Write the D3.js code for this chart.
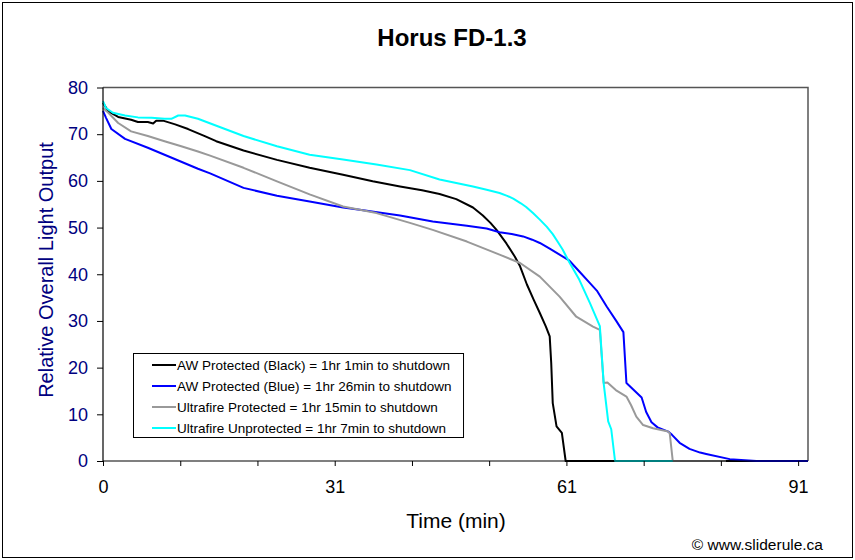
<!DOCTYPE html>
<html>
<head>
<meta charset="utf-8">
<script src="https://cdn.jsdelivr.net/npm/d3@7"></script>
<style>
  html, body { margin: 0; padding: 0; background: #ffffff; }
  svg { display: block; font-family: "Liberation Sans", Arial, sans-serif; }
</style>
</head>
<body>
<svg id="chart" width="855" height="560"></svg>
<script>
// ---------- data ----------
const chartTitle = "Horus FD-1.3";
const xTitle = "Time (min)";
const yTitle = "Relative Overall Light Output";
const credit = "\u00A9 www.sliderule.ca";

const seriesNames = [
  "AW Protected (Black) = 1hr 1min to shutdown",
  "AW Protected (Blue) = 1hr 26min to shutdown",
  "Ultrafire Protected = 1hr 15min to shutdown",
  "Ultrafire Unprotected = 1hr 7min to shutdown"
];
const seriesColors = ["#000000", "#0000ff", "#999999", "#00ffff"];

const blackTime = [0,0.7,2.0,3.7,4.6,5.9,6.6,7.0,7.9,9.5,11.2,13.4,14.9,18.5,22.9,27.2,31.6,35.5,39.1,42.0,44.3,46.5,48.7,50.0,51.0,51.8,53.1,54.2,54.9,55.8,56.7,57.5,58.3,58.8,59.0,59.2,59.7,60.4,60.9,92.8];
const blackValue = [76.7,74.9,73.7,73.1,72.6,72.6,72.3,72.9,72.9,72.1,71.1,69.6,68.5,66.5,64.5,62.8,61.3,59.9,58.8,58.0,57.2,56.1,54.3,52.6,51.0,49.5,46.6,43.8,41.7,37.8,34.5,31.7,28.8,26.7,21.0,12.4,7.4,6.0,0,0];

const blueTime = [0,0.4,1.1,2.9,5.9,8.1,12.5,14.1,18.5,22.9,27.2,31.6,33.8,39.1,43.4,47.9,50.5,52.2,53.8,55.3,56.5,57.5,58.8,60.1,61.4,62.7,64.1,65.0,66.3,67.6,68.5,68.9,70.9,71.5,72.2,73.0,74.4,74.9,75.9,77.2,78.6,79.4,82.5,86.0,92.8];
const blueValue = [75.0,73.5,71.1,69.0,67.1,65.6,62.6,61.6,58.5,56.8,55.6,54.3,53.8,52.6,51.3,50.4,49.8,49.0,48.6,48.1,47.4,46.7,45.5,44.2,42.9,40.6,38.1,36.5,33.1,29.9,27.6,16.7,13.6,10.5,8.3,7.2,6.3,5.6,3.9,2.6,1.8,1.5,0.4,0,0];

const grayTime = [0,0.7,2.0,3.7,5.9,8.1,10.3,12.5,14.1,18.5,22.9,27.2,31.6,33.8,36.0,40.4,43.4,47.9,52.2,54.9,57.5,60.1,62.3,64.5,65.4,65.9,66.4,67.5,68.9,69.5,70.2,71.1,72.4,74.4,74.6,75.0,82.0];
const grayValue = [75.6,74.6,72.4,70.6,69.6,68.5,67.4,66.3,65.4,62.8,59.9,57.1,54.5,53.8,53.1,51.0,49.5,47.0,44.2,42.4,39.5,35.2,30.9,28.8,28.1,16.7,16.8,15.2,13.8,12.0,9.5,7.7,7.0,6.3,5.9,0,0];

const cyanTime = [0,0.4,1.3,2.9,4.6,6.4,8.1,9.0,9.9,10.8,12.5,15.1,18.5,22.9,27.2,31.6,36.0,40.4,44.3,48.7,50.5,52.2,53.2,54.0,55.0,55.7,56.6,57.5,58.4,59.2,60.0,60.5,61.4,62.7,64.1,65.4,65.9,66.5,66.9,67.4,75.0];
const cyanValue = [77.1,75.6,74.6,74.0,73.6,73.5,73.3,73.3,74.0,74.0,73.3,71.7,69.6,67.4,65.6,64.6,63.5,62.3,60.3,58.8,58.1,57.4,56.8,56.2,55.2,54.4,53.1,51.7,50.2,48.6,46.6,45.3,42.5,38.8,33.8,28.9,16.7,8.5,6.8,0,0];

const xTickValues = [0,10.17,20.33,30.5,40.67,50.83,61,71.17,81.33,91.5];
const xTickLabels = ["0","","","31","","","61","","","91"];
const yTickValues = [0,10,20,30,40,50,60,70,80];

// ---------- layout ----------
const svg = d3.select("#chart");
const W = 855, H = 560;
const plot = { left: 103, right: 808, top: 87.5, bottom: 461 };

svg.append("rect").attr("x", 2.5).attr("y", 2.5).attr("width", W - 5).attr("height", H - 5)
  .attr("fill", "#fff").attr("stroke", "#000").attr("stroke-width", 1);

const x = d3.scaleLinear().domain([0, 92.8]).range([plot.left, plot.right]);
const y = d3.scaleLinear().domain([0, 80]).range([plot.bottom, plot.top]);

// plot border (top and right)
svg.append("path")
  .attr("d", `M${plot.left},${plot.top}H${plot.right}V${plot.bottom}`)
  .attr("fill", "none").attr("stroke", "#555").attr("stroke-width", 1.5);

// series
const allSeries = [
  { t: blackTime, v: blackValue },
  { t: blueTime, v: blueValue },
  { t: grayTime, v: grayValue },
  { t: cyanTime, v: cyanValue }
];
const line = d3.line().x(d => x(d[0])).y(d => y(d[1]));
allSeries.forEach((s, i) => {
  const pts = s.t.map((t, j) => [t, s.v[j]]);
  svg.append("path").datum(pts).attr("d", line)
    .attr("fill", "none").attr("stroke", seriesColors[i])
    .attr("stroke-width", 2).attr("stroke-linejoin", "round");
});

// axes
const yAxis = d3.axisLeft(y).tickValues(yTickValues).tickSize(6).tickPadding(9).tickFormat(d3.format("d"));
const gy = svg.append("g").attr("transform", `translate(${plot.left},0)`).call(yAxis);
gy.selectAll("text").attr("fill", "#000080").style("font-size", "18px");
gy.selectAll("line").attr("stroke", "#000");
gy.select(".domain").attr("stroke", "#000").attr("stroke-width", 1.2)
  .attr("d", `M0,${plot.top}V${plot.bottom}`);

const xAxis = d3.axisBottom(x).tickValues(xTickValues).tickSize(5).tickPadding(14)
  .tickFormat((d, i) => xTickLabels[i]);
const gx = svg.append("g").attr("transform", `translate(0,${plot.bottom})`).call(xAxis);
gx.selectAll("text").attr("fill", "#000").style("font-size", "18px");
gx.selectAll("line").attr("stroke", "#000");
gx.select(".domain").attr("stroke", "#000").attr("stroke-width", 1.2)
  .attr("d", `M${plot.left},0H${plot.right}`);

// titles
svg.append("text").attr("x", 452).attr("y", 46).attr("text-anchor", "middle")
  .style("font-size", "24px").style("font-weight", "bold").text(chartTitle);
svg.append("text").attr("x", 456).attr("y", 528).attr("text-anchor", "middle")
  .style("font-size", "21px").text(xTitle);
svg.append("text").attr("transform", "translate(53,270) rotate(-90)").attr("text-anchor", "middle")
  .attr("fill", "#000080").style("font-size", "20px").text(yTitle);
svg.append("text").attr("x", 823).attr("y", 550).attr("text-anchor", "end")
  .style("font-size", "15.5px").text(credit);

// legend
const lg = svg.append("g");
const lgBox = lg.append("rect").attr("x", 133.5).attr("y", 353.5).attr("height", 84)
  .attr("fill", "#fff").attr("stroke", "#000").attr("stroke-width", 1);
let maxEnd = 0;
seriesNames.forEach((name, i) => {
  const cy = 365 + i * 21;
  lg.append("line").attr("x1", 152).attr("x2", 176).attr("y1", cy).attr("y2", cy)
    .attr("stroke", seriesColors[i]).attr("stroke-width", 2);
  const t = lg.append("text").attr("x", 177).attr("y", cy + 5)
    .style("font-size", "13.5px").text(name);
  maxEnd = Math.max(maxEnd, 177 + t.node().getComputedTextLength());
});
lgBox.attr("width", maxEnd + 12 - 133.5);
</script>
</body>
</html>
